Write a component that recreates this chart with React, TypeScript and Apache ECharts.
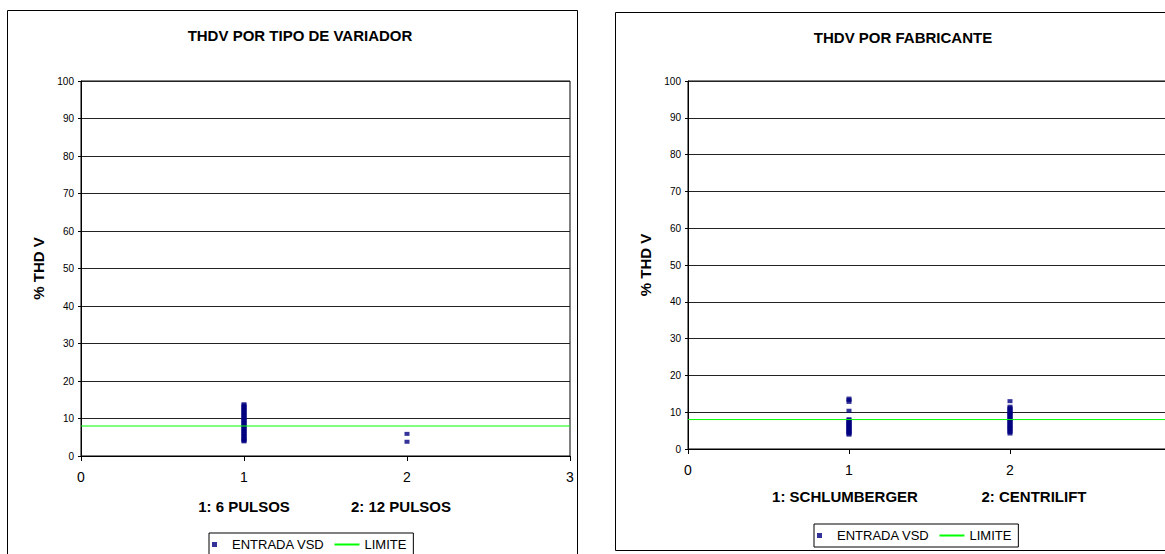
import React, { useEffect, useRef } from "react";
import * as echarts from "echarts";

// THD V readings (%) at the input of each variable speed drive
const sixPulseValues = [
  13.8, 13.5, 13.1, 12.8, 12.4, 12.1, 11.7, 11.4, 11.0, 10.7, 10.3, 10.0, 9.6,
  9.3, 8.9, 8.6, 8.2, 7.9, 7.5, 7.2, 6.8, 6.5, 6.1, 5.8, 5.4, 5.1, 4.7, 4.4,
  4.1, 3.9,
];
const twelvePulseValues = [5.9, 3.8];

const schlumbergerValues = [
  13.7, 13.3, 12.8, 10.4, 8.1, 7.8, 7.5, 7.2, 6.9, 6.6, 6.3, 6.0, 5.7, 5.4,
  5.1, 4.8, 4.5, 4.2, 3.9,
];
const centriliftValues = [
  13.0, 11.5, 11.1, 10.8, 10.4, 10.0, 9.7, 9.3, 9.0, 8.6, 8.2, 7.9, 7.5, 7.2,
  6.8, 6.4, 6.1, 5.7, 5.4, 5.0, 4.6, 4.2,
];

// Codes used on the x axis and the captions that explain them
const typeCaptions = ["1: 6 PULSOS", "2: 12 PULSOS"];
const makerCaptions = ["1: SCHLUMBERGER", "2: CENTRILIFT"];
const chartTitles = ["THDV POR TIPO DE VARIADOR", "THDV POR FABRICANTE"];

const LIMIT = 8;
const X_RANGE = [0, 3];
const Y_RANGE = [0, 100];

const FONT = "'Liberation Sans', Arial, Helvetica, sans-serif";
const DOT = "#000080";
const GREEN = "#00ff00";

const atCode = (code: number, values: number[]) => values.map((v) => [code, v]);

function axesFor(gridIndex: number, labelMargin: number, showLastLabel: boolean) {
  const x = {
    type: "value",
    gridIndex,
    min: X_RANGE[0],
    max: X_RANGE[1],
    interval: 1,
    axisLine: { show: true, onZero: false, lineStyle: { color: "#000", width: 1 } },
    axisTick: { show: true, length: 5, lineStyle: { color: "#000" } },
    axisLabel: {
      fontSize: 14,
      margin: labelMargin,
      color: "#000",
      fontFamily: FONT,
      showMaxLabel: showLastLabel,
    },
    splitLine: { show: false },
  };
  const y = {
    type: "value",
    gridIndex,
    min: Y_RANGE[0],
    max: Y_RANGE[1],
    interval: 10,
    name: "% THD V",
    nameLocation: "middle",
    nameRotate: 90,
    nameGap: 35,
    nameTextStyle: { fontSize: 15, fontWeight: "bold", color: "#000", fontFamily: FONT },
    axisLine: { show: true, lineStyle: { color: "#000", width: 1 } },
    axisTick: { show: true, length: 3, lineStyle: { color: "#000" } },
    axisLabel: { fontSize: 10, margin: 7, color: "#000", fontFamily: FONT },
    splitLine: { show: true, lineStyle: { color: "#222", width: 1 } },
  };
  return { x, y };
}

function seriesFor(axisIndex: number, first: number[], second: number[]) {
  return [
    {
      name: "ENTRADA VSD",
      type: "scatter",
      xAxisIndex: axisIndex,
      yAxisIndex: axisIndex,
      symbol: "rect",
      symbolSize: [5, 4],
      itemStyle: { color: DOT },
      data: [...atCode(1, first), ...atCode(2, second)],
    },
    {
      name: "LIMITE",
      type: "line",
      xAxisIndex: axisIndex,
      yAxisIndex: axisIndex,
      symbol: "none",
      lineStyle: { color: GREEN, width: 1 },
      itemStyle: { color: GREEN },
      data: [
        [X_RANGE[0], LIMIT],
        [X_RANGE[1], LIMIT],
      ],
    },
  ];
}

function legendAt(left: number, top: number) {
  return {
    left,
    top,
    orient: "horizontal",
    backgroundColor: "#fff",
    borderColor: "#000",
    borderWidth: 1,
    borderRadius: 0,
    padding: [5, 7, 5, 3],
    itemWidth: 25,
    itemHeight: 5,
    itemGap: 9,
    symbolKeepAspect: true,
    selectedMode: false,
    textStyle: { fontSize: 13, color: "#000", fontFamily: FONT },
    data: [
      { name: "ENTRADA VSD", icon: "path://M0,0L10,0L10,10L0,10Z" },
      {
        name: "LIMITE",
        // plain line key, without the point marker in its middle
        itemStyle: { color: "rgba(0,0,0,0)", borderColor: "rgba(0,0,0,0)", borderWidth: 0 },
      },
    ],
  };
}

function caption(text: string, cx: number, cy: number) {
  return {
    type: "text",
    x: cx,
    y: cy,
    style: {
      text,
      fill: "#000",
      font: `bold 15px ${FONT}`,
      textAlign: "center",
      textVerticalAlign: "middle",
    },
  };
}

export default function App() {
  const ref = useRef<HTMLDivElement>(null);

  useEffect(() => {
    if (!ref.current) return;
    const chart = echarts.init(ref.current, undefined, { renderer: "svg" });

    const left = axesFor(0, 14, true);
    // the right plot's last tick sits beyond the page edge, so its label is not drawn
    const right = axesFor(1, 14, false);

    chart.setOption({
      animation: false,
      backgroundColor: "#fff",
      title: [
        {
          text: chartTitles[0],
          left: 295,
          top: 23,
          textAlign: "center",
          textStyle: { fontSize: 15, fontWeight: "bold", color: "#000", fontFamily: FONT },
        },
        {
          text: chartTitles[1],
          left: 898,
          top: 25,
          textAlign: "center",
          textStyle: { fontSize: 15, fontWeight: "bold", color: "#000", fontFamily: FONT },
        },
      ],
      grid: [
        {
          left: 81, top: 81, width: 489, height: 375,
          outerBoundsMode: "none",
          show: true, borderColor: "#000", borderWidth: 1,
        },
        {
          // this plot runs on past the right edge of the page
          left: 688, top: 81, width: 483, height: 368,
          outerBoundsMode: "none",
          show: true, borderColor: "#000", borderWidth: 1,
        },
      ],
      xAxis: [left.x, right.x],
      yAxis: [left.y, right.y],
      legend: [legendAt(209, 533), legendAt(814, 524)],
      series: [
        ...seriesFor(0, sixPulseValues, twelvePulseValues),
        ...seriesFor(1, schlumbergerValues, centriliftValues),
      ],
      graphic: [
        // outer frames of the two charts
        {
          type: "rect",
          silent: true,
          z: -10,
          shape: { x: 7.5, y: 10.5, width: 570, height: 560 },
          style: { fill: "none", stroke: "#000", lineWidth: 1 },
        },
        {
          type: "rect",
          silent: true,
          z: -10,
          shape: { x: 615.5, y: 12.5, width: 600, height: 538 },
          style: { fill: "none", stroke: "#000", lineWidth: 1 },
        },
        caption(typeCaptions[0], 244, 506),
        caption(typeCaptions[1], 401, 506),
        caption(makerCaptions[0], 845, 496),
        caption(makerCaptions[1], 1034, 496),
      ],
    });

    return () => chart.dispose();
  }, []);

  return (
    <div
      ref={ref}
      style={{ position: "fixed", left: 0, top: 0, width: 1165, height: 554, background: "#fff" }}
    />
  );
}
